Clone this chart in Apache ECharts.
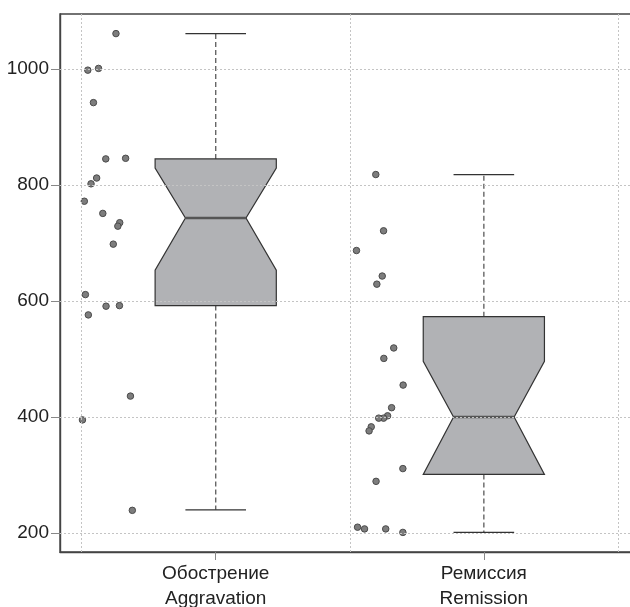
<!DOCTYPE html>
<html>
<head>
<meta charset="utf-8">
<script src="https://cdn.jsdelivr.net/npm/echarts@6/dist/echarts.min.js"></script>
<style>
  html, body { margin: 0; padding: 0; background: #fff; }
  #chart { width: 630px; height: 607px; }
</style>
</head>
<body>
<div id="chart"></div>
<script>
// категории и шкалы
var categories = ['Обострение\nAggravation', 'Ремиссия\nRemission'];
var categoryPos = [1, 2];
var yTicks = [200, 400, 600, 800, 1000];
var xGrid = [0.5, 1.5, 2.5];

// статистика ящиков (notched boxplot)
var lowerWhisker = [240, 201];
var lowerHinge = [592, 301];
var notchLow = [653, 301];
var medians = [743, 400];
var notchHigh = [829, 496];
var upperHinge = [845, 573];
var upperWhisker = [1061, 818];

// точки (jitter слева от ящика)
var aggravationX = [0.628, 0.523, 0.563, 0.544, 0.590, 0.664, 0.556, 0.535, 0.510, 0.579,
                    0.642, 0.635, 0.618, 0.514, 0.525, 0.591, 0.641, 0.682, 0.503, 0.689];
var aggravationY = [1061, 998, 1001, 942, 845, 846, 812, 802, 772, 751,
                    735, 729, 698, 611, 576, 591, 592, 436, 395, 239];
var remissionX = [1.597, 1.626, 1.525, 1.621, 1.601, 1.664, 1.627, 1.699, 1.656, 1.641,
                  1.626, 1.608, 1.580, 1.572, 1.698, 1.598, 1.529, 1.555, 1.634, 1.698];
var remissionY = [818, 721, 687, 643, 629, 519, 501, 455, 416, 402,
                  398, 398, 383, 376, 311, 289, 210, 207, 207, 201];

var boxHalf = 0.226;
var notchHalf = 0.113;

function zip(xs, ys) {
	return xs.map(function(x, i) { return [x, ys[i]]; });
}

var boxData = categoryPos.map(function(x, i) {
	return [x, lowerWhisker[i], lowerHinge[i], notchLow[i], medians[i], notchHigh[i], upperHinge[i], upperWhisker[i]];
});

function renderBox(params, api) {
	var x = api.value(0);
	var wlo = api.value(1), q1 = api.value(2), nlo = api.value(3), med = api.value(4);
	var nhi = api.value(5), q3 = api.value(6), whi = api.value(7);
	var c = function(dx, v) { return api.coord([x + dx, v]); };
	var poly = [
		c(-boxHalf, q3), c(boxHalf, q3), c(boxHalf, nhi), c(notchHalf, med), c(boxHalf, nlo),
		c(boxHalf, q1), c(-boxHalf, q1), c(-boxHalf, nlo), c(-notchHalf, med), c(-boxHalf, nhi)
	];
	var dash = { stroke: '#666', lineWidth: 1.4, lineDash: [5, 3] };
	var solid = { stroke: '#333', lineWidth: 1.2 };
	function seg(p1, p2, style) {
		return { type: 'line', shape: { x1: p1[0], y1: p1[1], x2: p2[0], y2: p2[1] }, style: style };
	}
	return {
		type: 'group',
		children: [
			seg(c(0, q3), c(0, whi), dash),
			seg(c(0, q1), c(0, wlo), dash),
			seg(c(-notchHalf, whi), c(notchHalf, whi), solid),
			seg(c(-notchHalf, wlo), c(notchHalf, wlo), solid),
			{ type: 'polygon', shape: { points: poly }, style: { fill: '#b1b2b5', stroke: '#333', lineWidth: 1.2 } },
			seg(c(-notchHalf, med), c(notchHalf, med), { stroke: '#555', lineWidth: 2.6 })
		]
	};
}

var FONT = "'Liberation Sans', Arial, sans-serif";

var myChart = echarts.init(document.getElementById('chart'));
myChart.setOption({
	animation: false,
	grid: {
		left: 60, top: 14, width: 574, bottom: 55,
		outerBoundsMode: 'none',
		containLabel: false,
		show: true, borderColor: '#444', borderWidth: 1.4
	},
	xAxis: {
		type: 'value',
		min: 0.4193, max: 2.56,
		axisLine: { show: true, onZero: false, lineStyle: { color: '#444', width: 1.4 } },
		axisTick: { show: true, customValues: categoryPos, length: 8, lineStyle: { color: '#888' } },
		axisLabel: {
			customValues: categoryPos,
			margin: 9,
			fontFamily: FONT, fontSize: 19, lineHeight: 25, color: '#222',
			formatter: function(v) { return categories[Math.round(v) - 1]; }
		},
		splitLine: { show: false }
	},
	yAxis: {
		type: 'value',
		min: 167.2, max: 1094.8,
		axisLine: { show: true, onZero: false, lineStyle: { color: '#444', width: 1.4 } },
		axisTick: { show: true, customValues: yTicks, length: 9, lineStyle: { color: '#888' } },
		axisLabel: {
			customValues: yTicks,
			margin: 11,
			fontFamily: FONT, fontSize: 19, color: '#222',
			formatter: function(v) { return String(v); }
		},
		splitLine: { show: false }
	},
	series: [
		{
			// сетка
			type: 'line',
			data: [],
			silent: true,
			z: 0,
			markLine: {
				silent: true,
				symbol: ['none', 'none'],
				label: { show: false },
				lineStyle: { color: '#c4c4c4', type: [2, 2], width: 1 },
				data: xGrid.map(function(v) { return { xAxis: v }; })
					.concat(yTicks.map(function(v) { return { yAxis: v }; }))
			}
		},
		{
			type: 'custom',
			renderItem: renderBox,
			data: boxData,
			z: 2
		},
		{
			type: 'scatter',
			data: zip(aggravationX, aggravationY),
			symbolSize: 6.5,
			itemStyle: { color: '#7d7d7d', borderColor: '#4a4a4a', borderWidth: 1, opacity: 1 },
			z: 3
		},
		{
			type: 'scatter',
			data: zip(remissionX, remissionY),
			symbolSize: 6.5,
			itemStyle: { color: '#7d7d7d', borderColor: '#4a4a4a', borderWidth: 1, opacity: 1 },
			z: 3
		}
	]
});
</script>
</body>
</html>
